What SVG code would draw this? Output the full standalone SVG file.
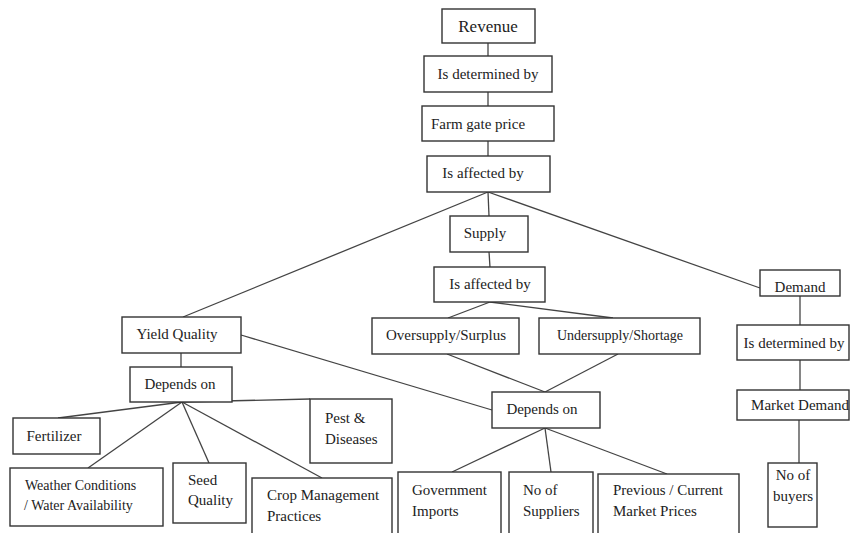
<svg xmlns="http://www.w3.org/2000/svg" width="853" height="533" viewBox="0 0 853 533">
<style>
rect{fill:#fff;stroke:#333;stroke-width:1.4}
text{font-family:"Liberation Serif","Times New Roman",serif;font-size:15px;fill:#222}
.c{text-anchor:middle}
#connectors line{stroke:#444;stroke-width:1.3}
</style>
<rect x="0" y="0" width="853" height="533" style="fill:#fff;stroke:none"/>
<g id="connectors">
<line x1="488" y1="43" x2="488" y2="56"/>
<line x1="488" y1="92" x2="488" y2="106"/>
<line x1="488" y1="141" x2="488" y2="156"/>
<line x1="488" y1="192" x2="183" y2="317"/>
<line x1="488" y1="192" x2="489" y2="216"/>
<line x1="488" y1="192" x2="760" y2="288"/>
<line x1="489" y1="252" x2="490" y2="267"/>
<line x1="490" y1="302" x2="448" y2="318"/>
<line x1="490" y1="302" x2="613" y2="318"/>
<line x1="447" y1="354" x2="545" y2="392"/>
<line x1="618" y1="354" x2="545" y2="392"/>
<line x1="241" y1="335" x2="492" y2="410"/>
<line x1="181" y1="353" x2="181" y2="367"/>
<line x1="182" y1="402" x2="58" y2="418"/>
<line x1="182" y1="402" x2="310" y2="399"/>
<line x1="182" y1="402" x2="88" y2="468"/>
<line x1="182" y1="402" x2="209" y2="463"/>
<line x1="182" y1="402" x2="322" y2="478"/>
<line x1="545" y1="428" x2="452" y2="472"/>
<line x1="545" y1="428" x2="551" y2="472"/>
<line x1="545" y1="428" x2="667" y2="474"/>
<line x1="800" y1="296" x2="800" y2="325"/>
<line x1="800" y1="360" x2="800" y2="390"/>
<line x1="799" y1="420" x2="799" y2="463"/>
</g>
<g id="revenue"><rect x="442" y="9" width="93" height="34"/><text class="c" x="488" y="32" style="font-size:17px">Revenue</text></g>
<g id="determined1"><rect x="424" y="56" width="128" height="36"/><text class="c" x="488" y="79">Is determined by</text></g>
<g id="farmgate"><rect x="422" y="106" width="132" height="35"/><text class="c" x="478" y="129">Farm gate price</text></g>
<g id="affected1"><rect x="427" y="156" width="123" height="36"/><text class="c" x="483" y="178">Is affected by</text></g>
<g id="supply"><rect x="450" y="216" width="78" height="36"/><text class="c" x="485" y="238">Supply</text></g>
<g id="affected2"><rect x="434" y="267" width="111" height="35"/><text class="c" x="490" y="289">Is affected by</text></g>
<g id="oversupply"><rect x="372" y="318" width="147" height="36"/><text class="c" x="446" y="340">Oversupply/Surplus</text></g>
<g id="undersupply"><rect x="539" y="318" width="161" height="36"/><text class="c" x="620" y="340" style="font-size:14px">Undersupply/Shortage</text></g>
<g id="demand"><rect x="760" y="270" width="80" height="26"/><text class="c" x="800" y="292">Demand</text></g>
<g id="determined2"><rect x="737" y="325" width="112" height="35"/><text class="c" x="794" y="348">Is determined by</text></g>
<g id="marketdemand"><rect x="737" y="390" width="112" height="30"/><text class="c" x="800" y="410">Market Demand</text></g>
<g id="buyers"><rect x="768" y="463" width="49" height="64"/><text class="c" x="793" y="480">No of</text><text class="c" x="793" y="501">buyers</text></g>
<g id="yieldquality"><rect x="122" y="317" width="119" height="36"/><text class="c" x="177" y="339">Yield Quality</text></g>
<g id="dependsleft"><rect x="130" y="367" width="102" height="35"/><text class="c" x="180" y="389">Depends on</text></g>
<g id="dependsmid"><rect x="492" y="392" width="108" height="36"/><text class="c" x="542" y="414">Depends on</text></g>
<g id="fertilizer"><rect x="13" y="418" width="87" height="36"/><text class="c" x="54" y="441">Fertilizer</text></g>
<g id="pest"><rect x="310" y="399" width="82" height="64"/><text x="325" y="423">Pest &amp;</text><text x="325" y="444">Diseases</text></g>
<g id="weather"><rect x="10" y="468" width="153" height="58"/><text x="25" y="490" style="font-size:14px">Weather Conditions</text><text x="24" y="510" style="font-size:14px">/ Water Availability</text></g>
<g id="seed"><rect x="173" y="463" width="73" height="60"/><text x="188" y="485">Seed</text><text x="188" y="505">Quality</text></g>
<g id="crop"><rect x="252" y="478" width="140" height="64"/><text x="267" y="500">Crop Management</text><text x="267" y="521">Practices</text></g>
<g id="government"><rect x="398" y="472" width="103" height="70"/><text x="412" y="495">Government</text><text x="412" y="516">Imports</text></g>
<g id="suppliers"><rect x="509" y="472" width="84" height="70"/><text x="523" y="495">No of</text><text x="523" y="516">Suppliers</text></g>
<g id="prices"><rect x="598" y="474" width="141" height="68"/><text x="613" y="495">Previous / Current</text><text x="613" y="516">Market Prices</text></g>
</svg>
